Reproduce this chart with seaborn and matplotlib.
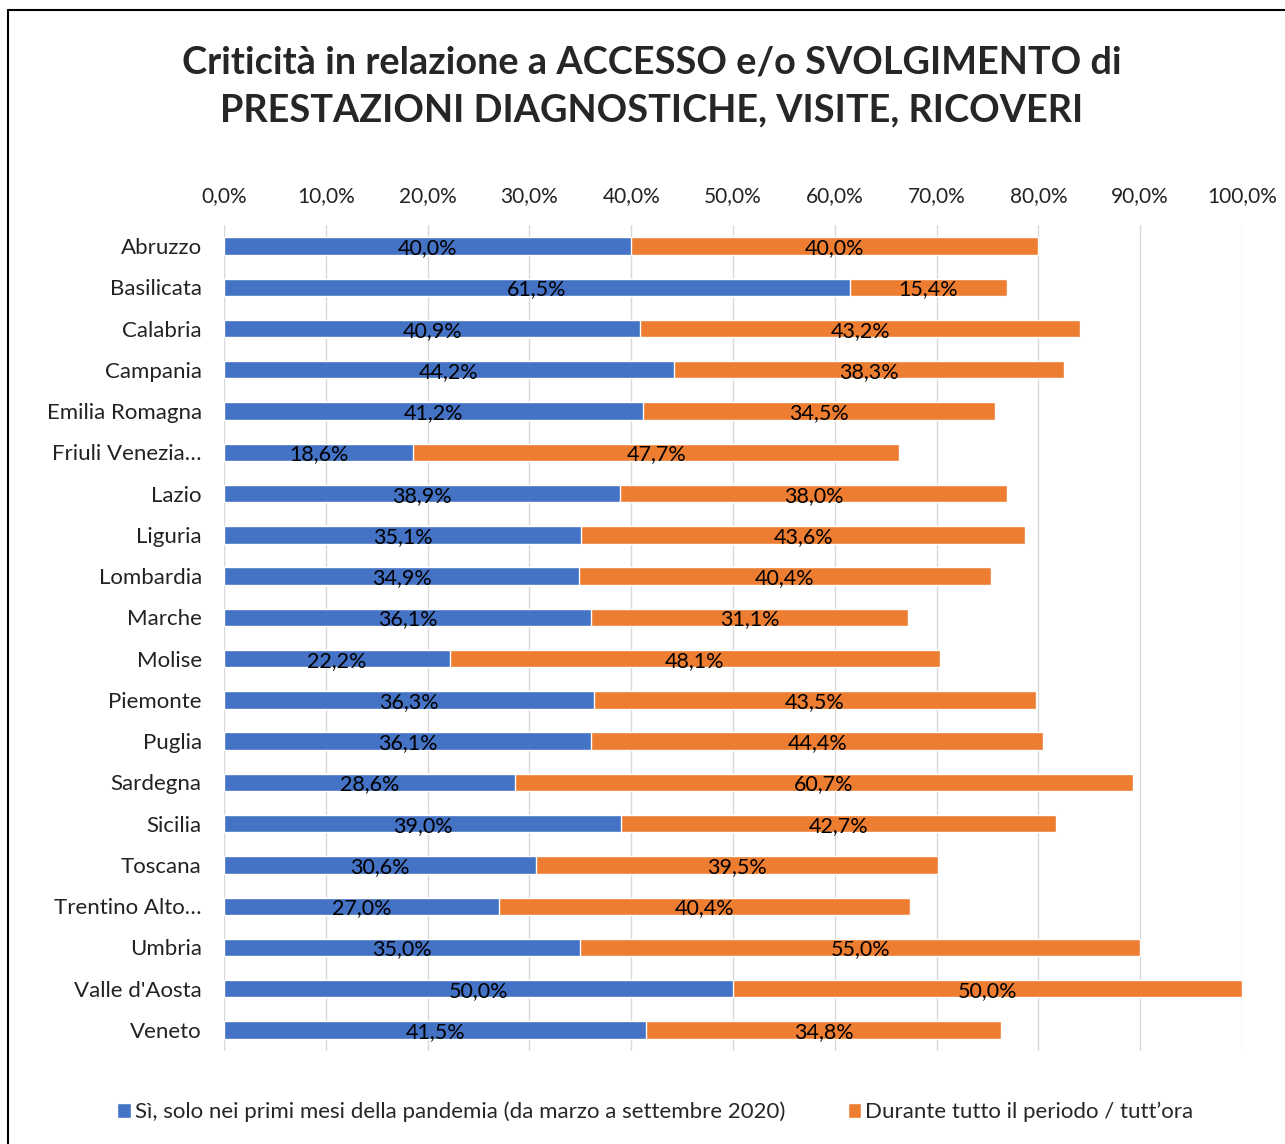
import numpy as np
import pandas as pd
import matplotlib
matplotlib.use("Agg")
import matplotlib.pyplot as plt
import seaborn as sns
from matplotlib.lines import Line2D
from matplotlib.patches import Patch

regioni = ["Abruzzo", "Basilicata", "Calabria", "Campania", "Emilia Romagna",
           "Friuli Venezia…", "Lazio", "Liguria", "Lombardia", "Marche",
           "Molise", "Piemonte", "Puglia", "Sardegna", "Sicilia", "Toscana",
           "Trentino Alto…", "Umbria", "Valle d'Aosta", "Veneto"]
primi_mesi = [40.0, 61.5, 40.9, 44.2, 41.2, 18.6, 38.9, 35.1, 34.9, 36.1,
              22.2, 36.3, 36.1, 28.6, 39.0, 30.6, 27.0, 35.0, 50.0, 41.5]
tutto_periodo = [40.0, 15.4, 43.2, 38.3, 34.5, 47.7, 38.0, 43.6, 40.4, 31.1,
                 48.1, 43.5, 44.4, 60.7, 42.7, 39.5, 40.4, 55.0, 50.0, 34.8]
serie = ["Sì, solo nei primi mesi della pandemia (da marzo a settembre 2020)",
         "Durante tutto il periodo / tutt’ora"]
xticks = np.arange(0, 101, 10)

BLU = "#4472C4"
ARANCIO = "#ED7D31"

df = pd.DataFrame({"regione": regioni, "primi": primi_mesi, "tutto": tutto_periodo})
df["totale"] = df["primi"] + df["tutto"]

sns.set_style("white")
plt.rcParams["font.family"] = ["Lato", "DejaVu Sans"]

fig = plt.figure(figsize=(12.85, 11.44), dpi=100)
ax = fig.add_axes([224 / 1285, 1 - 1050.6 / 1144, (1242 - 224) / 1285, (1050.6 - 225.4) / 1144])

sns.barplot(data=df, y="regione", x="totale", color=ARANCIO, saturation=1,
            width=0.42, orient="h", ax=ax, zorder=2)
sns.barplot(data=df, y="regione", x="primi", color=BLU, saturation=1,
            width=0.42, orient="h", ax=ax, zorder=3)

for i, row in df.iterrows():
    ax.text(row["primi"] / 2, i + 0.05, f"{row['primi']:.1f}%".replace(".", ","),
            ha="center", va="center", fontsize=15.5, color="black", zorder=4)
    ax.text(row["primi"] + row["tutto"] / 2, i + 0.05,
            f"{row['tutto']:.1f}%".replace(".", ","),
            ha="center", va="center", fontsize=15.5, color="black", zorder=4)

ax.set_xlim(0, 100)
ax.set_ylim(len(regioni) - 0.5, -0.5)
ax.set_xticks(xticks)
ax.set_xticklabels([f"{t:.1f}%".replace(".", ",") for t in xticks], fontsize=15)
ax.xaxis.tick_top()
ax.tick_params(axis="x", length=0, pad=14, colors="#222222")
ax.tick_params(axis="y", length=0, pad=23, labelsize=16, colors="#222222")
for lab in ax.get_yticklabels():
    lab.set_x(-0.0)
ax.set_xlabel("")
ax.set_ylabel("")
ax.grid(axis="x", color="#D9D9D9", linewidth=1, zorder=0)
ax.set_axisbelow(True)
for s in ax.spines.values():
    s.set_visible(False)
ax.tick_params(axis="y", pad=16)

fig.text(0.507, 1 - 86 / 1144,
         "Criticità in relazione a ACCESSO e/o SVOLGIMENTO di\nPRESTAZIONI DIAGNOSTICHE, VISITE, RICOVERI",
         ha="center", va="center", fontsize=27.3, fontweight="bold", linespacing=1.5)

handles = [Patch(facecolor=BLU), Patch(facecolor=ARANCIO)]
fig.legend(handles, serie, loc="center", bbox_to_anchor=(0.51, 1 - 1112 / 1144),
           ncol=2, frameon=False, fontsize=16, handlelength=0.6, handleheight=0.6,
           handletextpad=0.2, columnspacing=2.8)

# cornice del grafico
fig.add_artist(Line2D([8 / 1285, 8 / 1285], [0, 1 - 10 / 1144], transform=fig.transFigure,
                      color="black", linewidth=1.5))
fig.add_artist(Line2D([8 / 1285, 1], [1 - 10 / 1144, 1 - 10 / 1144], transform=fig.transFigure,
                      color="black", linewidth=1.5))

fig.savefig("out.png", dpi=100)
